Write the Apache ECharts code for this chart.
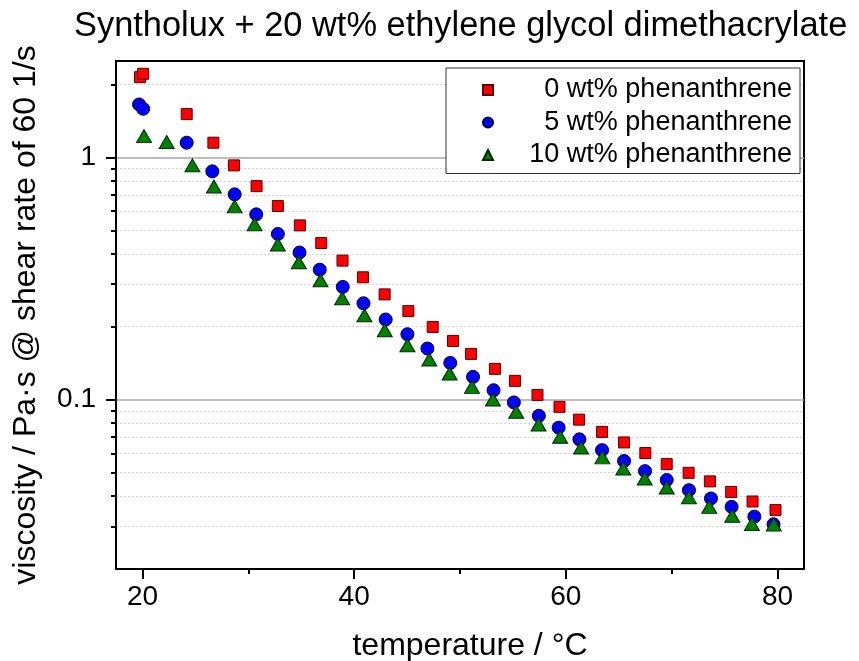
<!DOCTYPE html>
<html>
<head>
<meta charset="utf-8">
<script src="https://cdn.jsdelivr.net/npm/echarts@6/dist/echarts.min.js"></script>
<style>html,body{margin:0;padding:0;background:#fff;}#c{width:859px;height:661px;}</style>
</head>
<body>
<div id="c"></div>
<script>
const titleText = 'Syntholux + 20 wt% ethylene glycol dimethacrylate';
const xName = 'temperature / °C';
const yName = 'viscosity / Pa·s @ shear rate of 60 1/s';
const seriesNames = ['0 wt% phenanthrene', '5 wt% phenanthrene', '10 wt% phenanthrene'];

const temp0 = [19.77,20.06,24.18,26.70,28.64,30.78,32.79,34.87,36.89,38.90,40.83,42.88,45.12,47.42,49.34,51.04,53.30,55.19,57.32,59.40,61.25,63.42,65.50,67.51,69.53,71.60,73.61,75.62,77.64,79.81];
const visc0 = [2.144,2.214,1.509,1.150,0.927,0.761,0.630,0.524,0.443,0.375,0.320,0.272,0.232,0.1996,0.1748,0.1545,0.1340,0.1196,0.1046,0.0934,0.0827,0.0736,0.0666,0.0602,0.0542,0.0499,0.0460,0.0416,0.0380,0.0350];

const temp5 = [19.68,20.06,24.18,26.60,28.71,30.75,32.79,34.84,36.75,38.92,40.88,42.98,45.03,46.92,49.08,51.23,53.17,55.09,57.45,59.32,61.28,63.42,65.50,67.48,69.53,71.63,73.71,75.66,77.81,79.62];
const visc5 = [1.654,1.588,1.150,0.876,0.704,0.582,0.483,0.405,0.344,0.292,0.250,0.2142,0.1863,0.1626,0.1418,0.1242,0.1094,0.0974,0.0858,0.0766,0.0686,0.0619,0.0558,0.0507,0.0466,0.0423,0.0391,0.0361,0.0329,0.0306];

const temp10 = [20.15,22.29,24.72,26.75,28.71,30.59,32.79,34.77,36.82,38.87,40.97,42.89,45.03,47.10,49.02,51.13,53.11,55.31,57.42,59.46,61.44,63.45,65.43,67.45,69.53,71.63,73.55,75.72,77.58,79.65];
const visc10 = [1.224,1.157,0.927,0.759,0.628,0.529,0.437,0.369,0.311,0.262,0.223,0.1934,0.1678,0.1465,0.1283,0.1129,0.1002,0.0891,0.0790,0.0703,0.0635,0.0578,0.0520,0.0473,0.0434,0.0395,0.0361,0.0332,0.0307,0.0305];

const xMajorTicks = [20, 40, 60, 80];
const xMinorTicks = [30, 50, 70];
const yMajorTicks = [0.1, 1];
const yMinorTicks = [0.03,0.04,0.05,0.06,0.07,0.08,0.09,0.2,0.3,0.4,0.5,0.6,0.7,0.8,0.9,2];

const FONT = '"Liberation Sans", Arial, sans-serif';
const zip = (xs, ys) => xs.map((x, i) => [x, ys[i]]);

const chart = echarts.init(document.getElementById('c'), null, {renderer: 'canvas'});
chart.setOption({
  animation: false,
  backgroundColor: '#fff',
  title: {
    text: titleText, left: 69, top: 5,
    textStyle: {fontFamily: FONT, fontSize: 34.4, fontWeight: 'normal', color: '#000'}
  },
  grid: {left: 116, top: 61, right: 55, bottom: 92, outerBoundsMode: 'none', containLabel: false,
    show: true, borderColor: '#000', borderWidth: 2, backgroundColor: 'transparent'},
  legend: {
    orient: 'vertical', left: 446, top: 68,
    padding: [8.5, 8, 5, 36],
    itemWidth: 10, itemHeight: 10, itemGap: 5.5,
    backgroundColor: '#fff', borderColor: '#333', borderWidth: 1,
    data: seriesNames,
    formatter: n => '{t|' + n + '}',
    textStyle: {
      fontFamily: FONT, fontSize: 27, color: '#000',
      rich: {t: {fontFamily: FONT, fontSize: 27, color: '#000', width: 294, align: 'right', lineHeight: 27}}
    }
  },
  xAxis: [{
    type: 'value', min: 17.5, max: 82.5,
    name: xName, nameLocation: 'middle', nameGap: 61,
    nameTextStyle: {fontFamily: FONT, fontSize: 32, color: '#000', padding: [0, 0, 0, 20]},
    axisLine: {show: true, onZero: false, lineStyle: {color: '#000', width: 2}},
    axisTick: {show: true, inside: false, length: 10, customValues: xMajorTicks, lineStyle: {color: '#000', width: 2}},
    axisLabel: {customValues: xMajorTicks, margin: 14, fontFamily: FONT, fontSize: 28, color: '#000'},
    splitLine: {show: false}
  }, {
    type: 'value', min: 17.5, max: 82.5, position: 'bottom',
    axisLine: {show: false},
    axisTick: {show: true, inside: false, length: 5, customValues: xMinorTicks, lineStyle: {color: '#000', width: 2}},
    axisLabel: {show: false},
    splitLine: {show: false}
  }],
  yAxis: [{
    type: 'log', logBase: 10, min: 0.02, max: 2.5, position: 'left',
    name: yName, nameLocation: 'middle', nameGap: 74,
    nameTextStyle: {fontFamily: FONT, fontSize: 32, color: '#000'},
    axisLine: {show: true, onZero: false, lineStyle: {color: '#000', width: 2}},
    axisTick: {show: true, inside: false, length: 10, customValues: yMajorTicks, lineStyle: {color: '#000', width: 2}},
    axisLabel: {customValues: yMajorTicks, margin: 20, fontFamily: FONT, fontSize: 28, color: '#000',
      formatter: v => String(v)},
    splitLine: {show: true, lineStyle: {color: '#a9a9a9', width: 1.5, type: 'solid'}},
    minorTick: {show: false}
  }, {
    type: 'log', logBase: 10, min: 0.02, max: 2.5, position: 'left',
    axisLine: {show: false},
    axisTick: {show: true, inside: false, length: 5, customValues: yMinorTicks, lineStyle: {color: '#000', width: 2}},
    axisLabel: {show: false},
    splitLine: {show: true, lineStyle: {color: '#d4d4d4', width: 1, type: [2, 2]}}
  }],
  series: [{
    name: seriesNames[0], type: 'scatter', xAxisIndex: 0, yAxisIndex: 0,
    symbol: 'rect', symbolSize: 11, z: 3,
    itemStyle: {color: '#ff0000', borderColor: '#5a0000', borderWidth: 1, opacity: 1},
    data: zip(temp0, visc0)
  }, {
    name: seriesNames[1], type: 'scatter', xAxisIndex: 0, yAxisIndex: 0,
    symbol: 'circle', symbolSize: 13, z: 4,
    itemStyle: {color: '#0000ff', borderColor: '#00003a', borderWidth: 1, opacity: 1},
    data: zip(temp5, visc5)
  }, {
    name: seriesNames[2], type: 'scatter', xAxisIndex: 0, yAxisIndex: 0,
    symbol: 'triangle', symbolSize: [15, 13], z: 5,
    itemStyle: {color: '#008000', borderColor: '#002800', borderWidth: 1, opacity: 1},
    data: zip(temp10, visc10)
  }]
});
</script>
</body>
</html>
